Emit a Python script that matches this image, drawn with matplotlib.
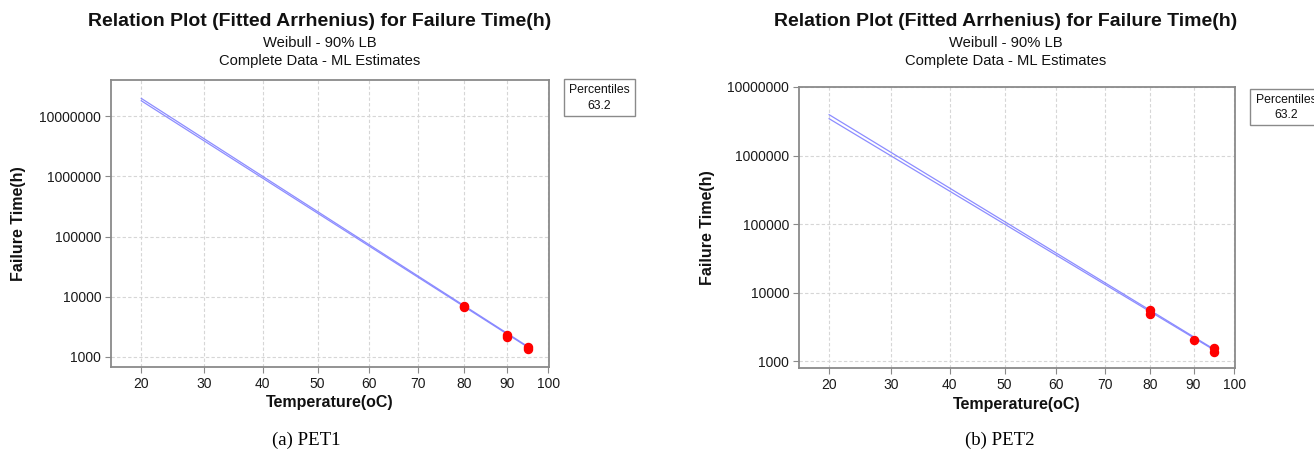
import numpy as np
import matplotlib
matplotlib.use("Agg")
import matplotlib.pyplot as plt
from matplotlib.patches import Rectangle
from matplotlib.ticker import FixedLocator, FuncFormatter

# ---------------- data ----------------
title_main = "Relation Plot (Fitted Arrhenius) for Failure Time(h)"
subtitle_1 = "Weibull - 90% LB"
subtitle_2 = "Complete Data - ML Estimates"
xlabel = "Temperature(oC)"
ylabel = "Failure Time(h)"
legend_title = "Percentiles"
legend_value = "63.2"
captions = ["(a) PET1", "(b) PET2"]

x_ticks = [20, 30, 40, 50, 60, 70, 80, 90, 100]
y_ticks = [1000, 10000, 100000, 1000000, 10000000]

line_temps = [20, 95]
pet1_fit = [1.97e7, 1480]
pet1_lb = [1.80e7, 1440]
pet1_pt_temps = [80, 80, 90, 90, 95, 95]
pet1_pt_times = [6650, 7050, 2150, 2350, 1350, 1480]

pet2_fit = [3.95e6, 1500]
pet2_lb = [3.45e6, 1460]
pet2_pt_temps = [80, 80, 90, 95, 95]
pet2_pt_times = [4950, 5700, 2070, 1360, 1550]

# ---------------- figure ----------------
W, H = 1314, 457
fig = plt.figure(figsize=(W / 100, H / 100), dpi=100)
fig.patch.set_facecolor("white")

SANS = "Liberation Sans"
SERIF = "Liberation Serif"


def fwd(t):
    t = np.asarray(t, dtype=float)
    with np.errstate(divide="ignore", invalid="ignore"):
        return -1.0 / (t + 273.15)


def inv(v):
    v = np.asarray(v, dtype=float)
    with np.errstate(divide="ignore", invalid="ignore"):
        return -1.0 / v - 273.15


def px_rect(l, t, r, b):
    return [l / W, 1 - b / H, (r - l) / W, (b - t) / H]


panels = [
    dict(rect=px_rect(111, 80, 549, 367), ylim=(682, 3.98e7),
         fit=pet1_fit, lb=pet1_lb, pt=(pet1_pt_temps, pet1_pt_times),
         tcx=320, ylab_x=19, xlab_y=403,
         box=(564, 79, 635, 116), cap_x=306),
    dict(rect=px_rect(799, 87, 1235, 368), ylim=(802, 1.0e7),
         fit=pet2_fit, lb=pet2_lb, pt=(pet2_pt_temps, pet2_pt_times),
         tcx=1006, ylab_x=707, xlab_y=404,
         box=(1250, 89, 1322, 125), cap_x=1000),
]

for i, p in enumerate(panels):
    ax = fig.add_axes(p["rect"])
    ax.set_xscale("function", functions=(fwd, inv))
    ax.set_yscale("log")
    ax.set_xlim(15.4, 100.15)
    ax.set_ylim(*p["ylim"])
    ax.xaxis.set_major_locator(FixedLocator(x_ticks))
    ax.xaxis.set_minor_locator(FixedLocator([]))
    ax.xaxis.set_major_formatter(FuncFormatter(lambda v, pos: f"{v:.0f}"))
    ax.yaxis.set_major_locator(FixedLocator(y_ticks))
    ax.yaxis.set_minor_locator(FixedLocator([]))
    ax.yaxis.set_major_formatter(FuncFormatter(lambda v, pos: f"{v:.0f}"))
    ax.grid(True, color="#d6d6d6", linestyle=(0, (3, 2)), linewidth=0.8)
    ax.set_axisbelow(True)
    for s in ax.spines.values():
        s.set_color("#8a8a8a")
        s.set_linewidth(1.3)
    ax.tick_params(axis="both", length=4, width=0.8, color="#8a8a8a",
                   labelsize=10, labelcolor="#1a1a1a", pad=3)
    for lab in ax.get_xticklabels() + ax.get_yticklabels():
        lab.set_fontfamily(SANS)

    ax.plot(line_temps, p["fit"], color="#8080ff", lw=0.9, alpha=0.9)
    ax.plot(line_temps, p["lb"], color="#8080ff", lw=0.9, alpha=0.9)
    ax.plot(p["pt"][0], p["pt"][1], "o", color="#ff0000", ms=5.8,
            mec="#ff0000", ls="none")

    # titles
    fig.text(p["tcx"] / W, 1 - 21 / H, title_main, ha="center", va="center",
             fontsize=14, fontweight="bold", family=SANS, color="#111111")
    fig.text(p["tcx"] / W, 1 - 43 / H, subtitle_1, ha="center", va="center",
             fontsize=10.6, family=SANS, color="#111111")
    fig.text(p["tcx"] / W, 1 - 61 / H, subtitle_2, ha="center", va="center",
             fontsize=10.6, family=SANS, color="#111111")

    # axis labels
    l, b, w, h = p["rect"]
    fig.text(p["ylab_x"] / W, b + h / 2, ylabel, rotation=90, ha="center",
             va="center", fontsize=11.5, fontweight="bold", family=SANS,
             color="#111111")
    fig.text(l + w / 2, 1 - p["xlab_y"] / H, xlabel, ha="center", va="center",
             fontsize=11.5, fontweight="bold", family=SANS, color="#111111")

    # legend box
    bl, bt, br, bb = p["box"]
    fig.patches.append(Rectangle((bl / W, 1 - bb / H), (br - bl) / W,
                                 (bb - bt) / H, transform=fig.transFigure,
                                 facecolor="white", edgecolor="#8a8a8a",
                                 linewidth=1.0))
    cx = (bl + br) / 2
    fig.text(cx / W, 1 - (bt + 11) / H, legend_title, ha="center",
             va="center", fontsize=8.8, family=SANS, color="#111111")
    fig.text(cx / W, 1 - (bt + 26.5) / H, legend_value, ha="center",
             va="center", fontsize=8.8, family=SANS, color="#111111")

    # caption
    fig.text(p["cap_x"] / W, 1 - 440 / H, captions[i], ha="center",
             va="center", fontsize=13.5, family=SERIF, color="#000000")

fig.savefig("out.png", dpi=100, facecolor="white")
